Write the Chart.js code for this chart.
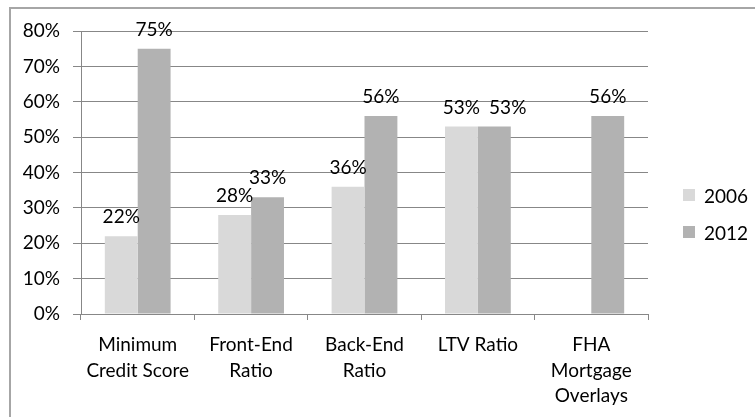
<!DOCTYPE html>
<html>
<head>
<meta charset="utf-8">
<script src="https://cdn.jsdelivr.net/npm/chart.js@4"></script>
<style>
  html, body { margin: 0; padding: 0; background: #fff; }
  #wrap { width: 755px; height: 417px; }
</style>
</head>
<body>
<div id="wrap"><canvas id="mainChart" width="755" height="417"></canvas></div>
<script>
// datos del gráfico
const categories = [
    ["Minimum", "Credit Score"],
    ["Front-End", "Ratio"],
    ["Back-End", "Ratio"],
    "LTV Ratio",
    ["FHA", "Mortgage", "Overlays"],
];
const seriesNames = ["2006", "2012"];
const values2006 = [22, 28, 36, 53, null];
const values2012 = [75, 33, 56, 53, 56];
const yTicks = [0, 10, 20, 30, 40, 50, 60, 70, 80];

const FONT = "Lato, 'Open Sans', sans-serif";
const FONT_SIZE = 19;
const gridColor = "#878787";

// etiquetas encima de cada barra (se separan solo si se pisan)
const barLabels = {
    id: "barLabels",
    afterDatasetsDraw(chart) {
        const ctx = chart.ctx;
        ctx.save();
        ctx.font = FONT_SIZE + "px " + FONT;
        ctx.fillStyle = "#000";
        ctx.textAlign = "left";
        ctx.textBaseline = "alphabetic";
        const prev = {};
        chart.data.datasets.forEach((ds, i) => {
            chart.getDatasetMeta(i).data.forEach((bar, j) => {
                const v = ds.data[j];
                if (v === null || v === undefined) return;
                const txt = v + "%";
                const w = ctx.measureText(txt).width;
                const y = bar.y - 13;
                let left = bar.x - w / 2;
                const p = prev[j];
                if (p && Math.abs(p.y - y) < 14 && left < p.right + 9) {
                    left = p.right + 9;
                }
                ctx.fillText(txt, left, y);
                prev[j] = { right: left + w, y: y };
            });
        });
        ctx.restore();
    },
};

// leyenda a la derecha y borde del gráfico
const frameAndLegend = {
    id: "frameAndLegend",
    afterDraw(chart) {
        const ctx = chart.ctx;
        ctx.save();
        ctx.strokeStyle = "#a6a6a6";
        ctx.lineWidth = 2;
        ctx.beginPath();
        ctx.moveTo(10, 417);
        ctx.lineTo(10, 8);
        ctx.lineTo(755, 8);
        ctx.stroke();

        ctx.font = FONT_SIZE + "px " + FONT;
        ctx.textBaseline = "middle";
        ctx.textAlign = "left";
        const startY = 195;
        chart.data.datasets.forEach((ds, i) => {
            const y = startY + i * 37;
            ctx.fillStyle = ds.backgroundColor;
            ctx.fillRect(683, y - 6, 12, 12);
            ctx.fillStyle = "#000";
            ctx.fillText(ds.label, 704, y + 2);
        });
        ctx.restore();
    },
};

new Chart(document.getElementById("mainChart").getContext("2d"), {
    type: "bar",
    data: {
        labels: categories,
        datasets: [
            { label: seriesNames[0], data: values2006, backgroundColor: "#d9d9d9" },
            { label: seriesNames[1], data: values2012, backgroundColor: "#b2b2b2" },
        ],
    },
    options: {
        responsive: false,
        animation: false,
        devicePixelRatio: 1,
        layout: { padding: { top: 31, right: 107, bottom: 0, left: 0 } },
        datasets: {
            bar: { categoryPercentage: 0.58, barPercentage: 1 },
        },
        plugins: {
            legend: { display: false },
            tooltip: { enabled: false },
        },
        scales: {
            x: {
                grid: {
                    drawOnChartArea: false,
                    drawTicks: true,
                    tickLength: 6,
                    color: gridColor,
                },
                border: { color: gridColor },
                ticks: {
                    color: "#000",
                    font: { family: FONT, size: FONT_SIZE, lineHeight: 1.35 },
                    padding: 12,
                    maxRotation: 0,
                    autoSkip: false,
                },
                afterFit(scale) { scale.height = 103; },
            },
            y: {
                min: 0,
                max: 80,
                afterBuildTicks(scale) {
                    scale.ticks = yTicks.map((v) => ({ value: v }));
                },
                grid: { color: gridColor, tickLength: 8 },
                border: { color: gridColor },
                ticks: {
                    color: "#000",
                    font: { family: FONT, size: FONT_SIZE },
                    padding: 13,
                    callback: (v) => v + "%",
                },
                afterFit(scale) { scale.width = 81; },
            },
        },
    },
    plugins: [barLabels, frameAndLegend],
});
</script>
</body>
</html>
